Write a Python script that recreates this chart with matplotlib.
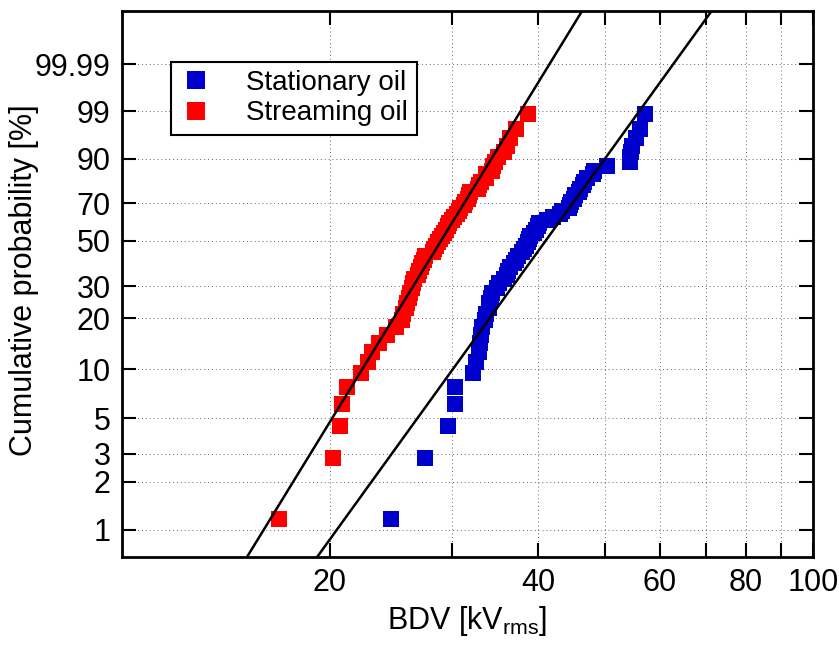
import matplotlib
matplotlib.use("Agg")
import matplotlib.pyplot as plt
import numpy as np

plt.rcParams["font.family"] = ["Liberation Sans", "DejaVu Sans"]
plt.rcParams["mathtext.fontset"] = "custom"
plt.rcParams["mathtext.rm"] = "Liberation Sans"

# breakdown voltages (kV rms), sorted
stationary_bdv = [24.5, 27.5, 29.7, 30.4, 30.4, 32.2, 32.5, 32.9, 33.0, 33.1,
                  33.2, 33.5, 33.7, 34.0, 34.0, 34.2, 34.3, 34.9, 35.1, 35.7,
                  36.1, 36.2, 36.4, 37.0, 37.2, 37.4, 37.9, 38.2, 38.4, 38.7,
                  38.8, 39.0, 39.5, 39.7, 40.0, 40.2, 41.2, 42.0, 43.0, 43.3,
                  44.3, 44.5, 44.7, 45.1, 45.3, 45.8, 46.0, 46.5, 46.6, 47.1,
                  48.1, 48.3, 50.4, 54.3, 54.3, 54.5, 54.7, 55.4, 56.2, 57.1]
streaming_bdv = [16.9, 20.2, 20.7, 20.85, 21.2, 22.2, 22.7, 23.0, 23.6, 24.2,
                 24.9, 25.4, 25.5, 25.8, 25.9, 26.0, 26.1, 26.3, 26.4, 26.5,
                 26.8, 26.9, 27.1, 27.2, 27.4, 27.5, 28.2, 28.3, 28.5, 28.7,
                 28.9, 29.1, 29.3, 29.5, 29.7, 29.8, 30.0, 30.3, 30.6, 30.8,
                 30.9, 31.3, 31.4, 31.7, 31.8, 31.9, 32.8, 32.9, 33.1, 33.6,
                 33.7, 34.3, 34.5, 34.7, 35.0, 35.7, 36.1, 36.4, 37.2, 38.7]
# Weibull fits (shape, scale kV)
stationary_fit = (6.09, 43.6)
streaming_fit = (7.17, 30.5)

yticks = [1, 2, 3, 5, 10, 20, 30, 50, 70, 90, 99, 99.99]
xticks = [20, 30, 40, 50, 60, 70, 80, 90, 100]
xlabels = ["20", "", "40", "", "60", "", "80", "", "100"]


def fwd(p):
    p = np.clip(np.asarray(p, float), 1e-9, 100 - 1e-9) / 100
    return np.log(-np.log(1 - p))


def inv(w):
    return 100 * (1 - np.exp(-np.exp(w)))


def ranks(n):
    i = np.arange(1, n + 1)
    return 100 * (i - 0.3) / (n + 0.4)


fig = plt.figure(figsize=(8.39, 6.46), dpi=100)
ax = fig.add_axes([0.145, 0.138, 0.824, 0.845])
ax.set_xscale("log")
ax.set_yscale("function", functions=(fwd, inv))

xx = np.geomspace(10, 100, 400)
for (b, eta) in (streaming_fit, stationary_fit):
    ax.plot(xx, inv(b * np.log(xx / eta)), color="black", lw=1.8, zorder=3)

ax.plot(stationary_bdv, ranks(len(stationary_bdv)), "s", color="#0000cc",
        ms=11.5, mew=0, label="Stationary oil", zorder=2)
ax.plot(streaming_bdv, ranks(len(streaming_bdv)), "s", color="#ff0000",
        ms=11.5, mew=0, label="Streaming oil", zorder=2)

ax.set_xlim(10, 100)
ax.set_ylim(inv(-5), inv(3))
ax.set_xticks(xticks)
ax.set_xticklabels(xlabels)
ax.xaxis.set_minor_locator(matplotlib.ticker.NullLocator())
ax.set_yticks(yticks)
ax.set_yticklabels(["1", "2", "3", "5", "10", "20", "30", "50", "70", "90",
                    "99", "99.99"])
ax.yaxis.set_minor_locator(matplotlib.ticker.NullLocator())
ax.tick_params(direction="in", length=10, width=1.5, labelsize=22,
               top=True, right=True, pad=8)
ax.grid(True, color="black", lw=0.7, ls=(0, (1, 3)), alpha=0.6)
for s in ax.spines.values():
    s.set_linewidth(2)

ax.set_xlabel(r"BDV [kV$_{\mathrm{rms}}$]", fontsize=22, labelpad=4)
ax.set_ylabel("Cumulative probability [%]", fontsize=22)
ax.yaxis.set_label_coords(-0.119, 0.507)

leg = ax.legend(loc="upper left", bbox_to_anchor=(0.072, 0.907),
                borderaxespad=0, fontsize=20, fancybox=False,
                edgecolor="black", framealpha=1, handlelength=1.2,
                handletextpad=1.2, borderpad=0.3, labelspacing=0.15,
                markerscale=1.1)
leg.get_frame().set_linewidth(1.5)

fig.savefig("out.png", dpi=100)
